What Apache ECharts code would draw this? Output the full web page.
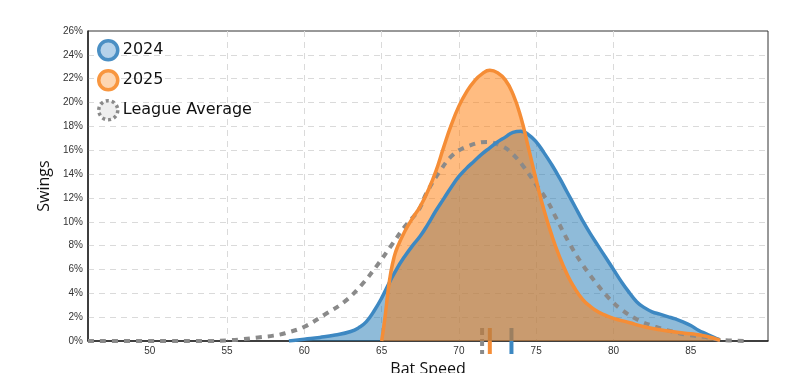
<!DOCTYPE html>
<html>
<head>
<meta charset="utf-8">
<script src="https://cdn.jsdelivr.net/npm/echarts@6/dist/echarts.min.js"></script>
<style>
html,body{margin:0;padding:0;background:#fff;}
#chart{width:798px;height:373px;}
</style>
</head>
<body>
<div id="chart"></div>
<script>
// ---- Data ----
const xTickValues = [50, 55, 60, 65, 70, 75, 80, 85];

const speed2024 = [59.0, 60.0, 61.0, 62.0, 63.0, 63.5, 64.0, 64.5, 65.0, 65.5, 66.0, 66.5, 67.0, 67.5, 68.0, 68.5, 69.0, 69.5, 70.0, 70.5, 71.0, 71.5, 72.0, 72.5, 73.0, 73.5, 74.0, 74.5, 75.0, 75.5, 76.0, 76.5, 77.0, 77.5, 78.0, 78.5, 79.0, 79.5, 80.0, 80.5, 81.0, 81.5, 82.0, 82.5, 83.0, 83.5, 84.0, 84.5, 85.0, 85.5, 86.0, 86.5, 86.9];
const pct2024   = [0.0, 0.15, 0.3, 0.5, 0.8, 1.1, 1.6, 2.5, 3.6, 4.9, 6.1, 7.1, 8.0, 8.8, 9.8, 10.9, 11.9, 12.9, 13.8, 14.5, 15.1, 15.7, 16.2, 16.7, 17.1, 17.5, 17.6, 17.3, 16.7, 15.8, 14.8, 13.7, 12.5, 11.3, 10.1, 9.0, 8.0, 7.0, 6.0, 5.0, 4.1, 3.3, 2.8, 2.45, 2.25, 2.05, 1.85, 1.6, 1.3, 0.9, 0.6, 0.3, 0.05];

const speed2025 = [65.0, 65.2, 65.4, 65.6, 65.8, 66.0, 66.5, 67.0, 67.5, 68.0, 68.5, 69.0, 69.5, 70.0, 70.5, 71.0, 71.5, 72.0, 72.5, 73.0, 73.5, 74.0, 74.5, 75.0, 75.5, 76.0, 76.5, 77.0, 77.5, 78.0, 78.5, 79.0, 79.5, 80.0, 81.0, 82.0, 83.0, 84.0, 85.0, 86.0, 86.9];
const pct2025   = [0.0, 1.8, 4.0, 5.8, 7.0, 7.8, 9.2, 10.3, 11.3, 12.6, 14.2, 16.2, 18.1, 19.7, 20.9, 21.8, 22.4, 22.7, 22.5, 21.9, 20.7, 18.8, 16.2, 13.5, 11.0, 8.9, 7.1, 5.6, 4.4, 3.5, 2.9, 2.45, 2.15, 1.9, 1.55, 1.2, 0.95, 0.75, 0.6, 0.4, 0.05];

const speedLeague = [46, 50, 54, 55, 56, 57, 58, 58.75, 60, 61.3, 62.6, 63.7, 64.8, 65.65, 66.5, 67.4, 67.9, 68.8, 69.6, 70.5, 71.8, 72.67, 73.3, 74.2, 75.0, 75.7, 76.3, 77.1, 77.95, 78.8, 79.7, 80.55, 81.6, 82.7, 83.8, 84.85, 85.9, 86.9, 88.6];
const pctLeague   = [0, 0, 0, 0.05, 0.15, 0.3, 0.45, 0.65, 1.2, 2.2, 3.3, 4.7, 6.5, 8.05, 9.6, 11.0, 12.4, 14.3, 15.6, 16.3, 16.7, 16.4, 15.9, 14.6, 13.1, 11.8, 10.3, 8.3, 6.5, 5.0, 3.6, 2.6, 1.76, 1.2, 0.8, 0.5, 0.35, 0.1, 0];

const mean2024 = 73.4;
const mean2025 = 72.0;
const meanLeague = 71.5;

// ---- Build ----
const zip = (xs, ys) => xs.map((x, i) => [x, ys[i]]);

function markerSeries(name, mean, color, dash) {
  return {
    name: name,
    type: 'custom',
    clip: false,
    silent: true,
    data: [[mean, 0]],
    renderItem: function (params, api) {
      const p = api.coord([api.value(0), 0]);
      return {
        type: 'line',
        shape: { x1: p[0], y1: p[1] - 13, x2: p[0], y2: p[1] + 13 },
        style: { stroke: color, lineWidth: 4, lineDash: dash || null }
      };
    }
  };
}

const chart = echarts.init(document.getElementById('chart'), null, { renderer: 'canvas' });
chart.setOption({
  animation: false,
  backgroundColor: '#fff',
  grid: { left: 88, right: 30, top: 31, bottom: 32, show: true, borderColor: '#333', borderWidth: 1, outerBoundsMode: 'none', containLabel: false },
  legend: {
    orient: 'vertical',
    left: 92,
    top: 34,
    itemWidth: 19,
    itemHeight: 19,
    itemGap: 7.5,
    textStyle: { fontFamily: 'DejaVu Sans', fontSize: 16, color: '#111', lineHeight: 19 },
    data: [
      { name: '2024', icon: 'circle', itemStyle: { color: '#b5d2ea', borderColor: '#4a8fc4', borderWidth: 3.5 } },
      { name: '2025', icon: 'circle', itemStyle: { color: '#fdd6b2', borderColor: '#f8963f', borderWidth: 3.5 } },
      { name: 'League Average', icon: 'circle', itemStyle: { color: '#eeeeee', borderColor: '#8a8a8a', borderWidth: 3.5, borderType: [3, 3] } }
    ]
  },
  xAxis: {
    type: 'value',
    min: 46,
    max: 90,
    name: 'Bat Speed',
    nameLocation: 'middle',
    nameGap: 20,
    nameTextStyle: { fontFamily: 'Open Sans', fontSize: 16, color: '#111' },
    axisLine: { show: true, lineStyle: { color: '#222', width: 1.5 } },
    axisTick: { show: false, customValues: xTickValues },
    axisLabel: { customValues: xTickValues, fontFamily: 'Liberation Sans', fontSize: 10, color: '#333', margin: 5 },
    splitLine: { show: true, showMinLine: false, showMaxLine: false, lineStyle: { color: '#dadada', type: [6, 5], width: 1 } }
  },
  yAxis: {
    type: 'value',
    min: 0,
    max: 26,
    interval: 2,
    name: 'Swings',
    nameLocation: 'middle',
    nameGap: 36,
    nameTextStyle: { fontFamily: 'Open Sans', fontSize: 16, color: '#111' },
    axisLine: { show: true, lineStyle: { color: '#222', width: 1.5 } },
    axisTick: { show: false },
    axisLabel: { formatter: '{value}%', fontFamily: 'Liberation Sans', fontSize: 10, color: '#333', margin: 5 },
    splitLine: { show: true, showMinLine: false, showMaxLine: false, lineStyle: { color: '#dadada', type: [6, 5], width: 1 } }
  },
  series: [
    {
      name: 'League Average',
      type: 'line',
      data: zip(speedLeague, pctLeague),
      smooth: 0.4,
      showSymbol: false,
      symbol: 'none',
      lineStyle: { color: '#8a8a8a', width: 4, type: [6, 6], cap: 'butt' },
      itemStyle: { color: '#8a8a8a' }
    },
    markerSeries('mLeague', meanLeague, '#8a8a8a', [7, 4]),
    {
      name: '2024',
      type: 'line',
      data: zip(speed2024, pct2024),
      smooth: 0.5,
      showSymbol: false,
      symbol: 'none',
      lineStyle: { color: '#3d88c2', width: 3.5 },
      areaStyle: { color: 'rgba(31,119,180,0.5)', opacity: 1 },
      itemStyle: { color: '#3d88c2' }
    },
    markerSeries('m2024', mean2024, '#3d88c2'),
    {
      name: '2025',
      type: 'line',
      data: zip(speed2025, pct2025),
      smooth: 0.5,
      showSymbol: false,
      symbol: 'none',
      lineStyle: { color: '#f58d36', width: 3.5 },
      areaStyle: { color: 'rgba(255,127,14,0.52)', opacity: 1 },
      itemStyle: { color: '#f58d36' }
    },
    markerSeries('m2025', mean2025, '#f58d36')
  ]
});
</script>
</body>
</html>
